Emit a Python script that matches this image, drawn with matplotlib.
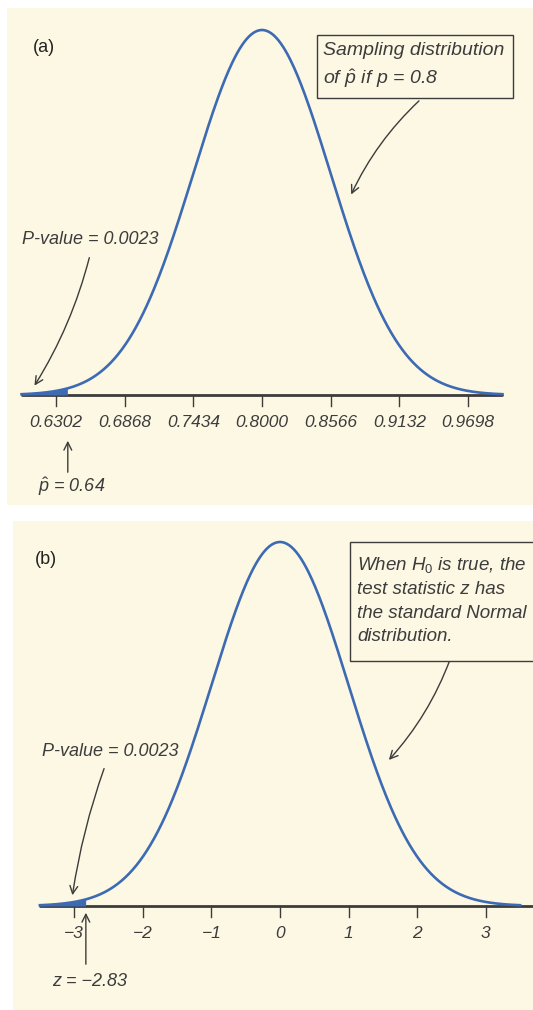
import numpy as np
import matplotlib.pyplot as plt
from matplotlib.patches import Rectangle
from matplotlib.transforms import IdentityTransform

W, H = 533, 1010
CREAM = '#fdf8e4'
BLUE = '#3d6bb3'
INK = '#3c3c3c'
HAND = ['Liberation Sans', 'DejaVu Sans']

plt.rcParams['mathtext.fontset'] = 'custom'
plt.rcParams['mathtext.rm'] = 'Liberation Sans'
plt.rcParams['mathtext.it'] = 'Liberation Sans:italic'

# (a) sampling distribution of p-hat when p = 0.8
mu_a = 0.8
sigma_a = 0.0566
p_hat = 0.64
ticks_a = [0.6302, 0.6868, 0.7434, 0.8000, 0.8566, 0.9132, 0.9698]
tick_labels_a = ['0.6302', '0.6868', '0.7434', '0.8000', '0.8566', '0.9132', '0.9698']

# (b) standard Normal for the test statistic
z_obs = -2.83
ticks_b = [-3, -2, -1, 0, 1, 2, 3]
tick_labels_b = ['\u22123', '\u22122', '\u22121', '0', '1', '2', '3']
p_value = 0.0023


def normal_curve(mu, sigma, n=400):
    x = np.linspace(mu - 3.5 * sigma, mu + 3.5 * sigma, n)
    y = np.exp(-0.5 * ((x - mu) / sigma) ** 2)  # scaled so the peak is 1
    return x, y


def fig_px(x, y):
    # pixel position measured from the top-left corner
    return (x, H - y)


def make_panel(fig, rect, x0_px, center, step, unit_px, base_px, peak_px):
    l, t, r, b = rect
    ax = fig.add_axes([l / W, 1 - b / H, (r - l) / W, (b - t) / H])
    ax.set_xlim(center + (l - x0_px) / unit_px * step,
                center + (r - x0_px) / unit_px * step)
    h = base_px - peak_px
    ax.set_ylim((base_px - b) / h, (base_px - t) / h)
    ax.set_facecolor(CREAM)
    ax.set_xticks([])
    ax.set_yticks([])
    for s in ax.spines.values():
        s.set_visible(False)
    return ax


def draw_axis(ax, lo, hi, ticks, labels, tick_len):
    ax.plot([lo, hi], [0, 0], color=INK, lw=2.0, solid_capstyle='round', zorder=3)
    for tv, lab in zip(ticks, labels):
        ax.plot([tv, tv], [0, -tick_len], color=INK, lw=1.0, zorder=3)
        ax.text(tv, -0.076, lab, ha='center', va='center', color=INK,
                family=HAND, style='italic', fontsize=12.5)


def marker_arrow(ax, xval, y_from, y_to):
    # short vertical arrow pointing up at an observed value
    ax.annotate('', xy=(xval, H - y_to), xycoords=('data', 'figure pixels'),
                xytext=(xval, H - y_from), textcoords=('data', 'figure pixels'),
                arrowprops=arrow)


fig = plt.figure(figsize=(W / 100, H / 100), dpi=100)
fig.patch.set_facecolor('white')

arrow = dict(arrowstyle='->', color=INK, lw=1.0, mutation_scale=14)

# ---- panel (a)
ax = make_panel(fig, (7, 8, 533, 505), 262, mu_a, sigma_a, 68.7, 395, 30)
xa, ya = normal_curve(mu_a, sigma_a)
ax.plot(xa, ya, color=BLUE, lw=1.9, zorder=4)
tail = xa <= p_hat
ax.fill_between(xa[tail], 0, ya[tail], color=BLUE, lw=0, zorder=4)
x_lo = mu_a - 3.5 * sigma_a
x_hi = mu_a + 3.5 * sigma_a
draw_axis(ax, x_lo, x_hi, ticks_a, tick_labels_a, 0.03)

fig.text(33 / W, 1 - 47 / H, '(a)', family='Liberation Sans', fontsize=13,
         color='#222222', va='center')

fig.add_artist(Rectangle(fig_px(317, 98), 196, 63, transform=IdentityTransform(),
                         facecolor=CREAM, edgecolor=INK, lw=1.0))
fig.text(323 / W, 1 - 66 / H, 'Sampling distribution\nof $\\hat{p}$ if $p$ = 0.8',
         family=HAND, style='italic', fontsize=14, color=INK, va='center',
         linespacing=1.45)
ax.annotate('', xy=fig_px(350, 197), xycoords='figure pixels',
            xytext=fig_px(421, 99), textcoords='figure pixels',
            arrowprops=dict(arrow, connectionstyle='arc3,rad=0.1'))

fig.text(22 / W, 1 - 240 / H, 'P-value = %.4f' % p_value, family=HAND,
         style='italic', fontsize=13, color=INK, va='center')
ax.annotate('', xy=fig_px(33, 388), xycoords='figure pixels',
            xytext=fig_px(90, 255), textcoords='figure pixels',
            arrowprops=dict(arrow, connectionstyle='arc3,rad=-0.08'))

fig.text(38 / W, 1 - 487 / H, '$\\hat{p}$ = %.2f' % p_hat, family=HAND,
         style='italic', fontsize=13, color=INK, va='center')
marker_arrow(ax, p_hat, 475, 438)

# ---- panel (b)
ax = make_panel(fig, (13, 521, 533, 1010), 280, 0.0, 1.0, 68.6, 906, 542)
xb, yb = normal_curve(0.0, 1.0)
ax.plot(xb, yb, color=BLUE, lw=1.9, zorder=4)
tail = xb <= z_obs
ax.fill_between(xb[tail], 0, yb[tail], color=BLUE, lw=0, zorder=4)
draw_axis(ax, -3.5, 3.7, ticks_b, tick_labels_b, 0.03)

fig.text(35 / W, 1 - 560 / H, '(b)', family='Liberation Sans', fontsize=13,
         color='#222222', va='center')

fig.add_artist(Rectangle(fig_px(350, 661), 190, 119, transform=IdentityTransform(),
                         facecolor=CREAM, edgecolor=INK, lw=1.0))
fig.text(357 / W, 1 - 600 / H,
         'When $H_0$ is true, the\ntest statistic z has\nthe standard Normal\ndistribution.',
         family=HAND, style='italic', fontsize=13.5, color=INK, va='center',
         linespacing=1.5)
ax.annotate('', xy=fig_px(387, 762), xycoords='figure pixels',
            xytext=fig_px(451, 657), textcoords='figure pixels',
            arrowprops=dict(arrow, connectionstyle='arc3,rad=-0.1'))

fig.text(42 / W, 1 - 752 / H, 'P-value = %.4f' % p_value, family=HAND,
         style='italic', fontsize=13, color=INK, va='center')
ax.annotate('', xy=fig_px(72, 898), xycoords='figure pixels',
            xytext=fig_px(105, 766), textcoords='figure pixels',
            arrowprops=dict(arrow, connectionstyle='arc3,rad=0.05'))

fig.text(52 / W, 1 - 981 / H, 'z = \u2212%.2f' % abs(z_obs), family=HAND,
         style='italic', fontsize=13, color=INK, va='center')
marker_arrow(ax, z_obs, 967, 910)

fig.savefig('out.png', dpi=100)
